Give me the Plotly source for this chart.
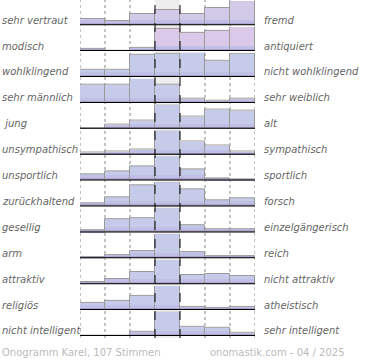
import plotly.graph_objects as go
from plotly.subplots import make_subplots

left_labels = ["sehr vertraut", "modisch", "wohlklingend", "sehr männlich", "\u00a0jung",
               "unsympathisch", "unsportlich", "zurückhaltend", "gesellig", "arm",
               "attraktiv", "religiös", "nicht intelligent"]
right_labels = ["fremd", "antiquiert", "nicht wohlklingend", "sehr weiblich", "alt",
                "sympathisch", "sportlich", "forsch", "einzelgängerisch", "reich",
                "nicht attraktiv", "atheistisch", "sehr intelligent"]
scale_steps = [1, 2, 3, 4, 5, 6, 7]

vertraut_fremd = [25, 19, 45, 63, 45, 70, 100]
modisch_antiquiert = [9, 0, 15, 93, 77, 85, 100]
wohlklingend = [29, 29, 93, 96, 100, 68, 96]
maennlich_weiblich = [75, 75, 100, 75, 18, 10, 18]
jung_alt = [1, 18, 35, 100, 50, 80, 76]
sympathisch = [10, 15, 20, 100, 53, 40, 14]
sportlich = [26, 37, 60, 100, 48, 8, 4]
zurueckhaltend_forsch = [12, 37, 88, 100, 71, 25, 33]
gesellig_einzelg = [8, 54, 58, 100, 29, 14, 14]
arm_reich = [3, 12, 30, 100, 24, 11, 11]
attraktiv = [10, 20, 51, 100, 39, 43, 33]
religioes_atheistisch = [29, 37, 58, 100, 14, 8, 12]
intelligent = [0, 1, 18, 100, 40, 32, 14]

rows = [vertraut_fremd, modisch_antiquiert, wohlklingend, maennlich_weiblich, jung_alt,
        sympathisch, sportlich, zurueckhaltend_forsch, gesellig_einzelg, arm_reich,
        attraktiv, religioes_atheistisch, intelligent]

top_colors = ["#d2c8e8", "#dbc9ea"] + ["#c7cbea"] * 11

n = len(rows)
fig = make_subplots(rows=n, cols=1, shared_xaxes=True, vertical_spacing=1.7 / 335)

xs = [s - 1 for s in scale_steps]
for i, vals in enumerate(rows):
    r = i + 1
    fig.add_trace(go.Bar(x=xs, y=vals, width=1, marker=dict(color=top_colors[i], line=dict(width=0)),
                         hoverinfo="skip", showlegend=False), row=r, col=1)
    fig.add_trace(go.Bar(x=xs, y=[min(v, 22) for v in vals], width=1,
                         marker=dict(color="#c0c0e6", line=dict(width=0)),
                         hoverinfo="skip", showlegend=False), row=r, col=1)
    fig.add_trace(go.Bar(x=xs, y=[min(v, 10) for v in vals], width=1,
                         marker=dict(color="#afa3d6", line=dict(width=0)),
                         hoverinfo="skip", showlegend=False), row=r, col=1)
    fig.add_trace(go.Bar(x=xs, y=vals, width=1,
                         marker=dict(color="rgba(0,0,0,0)", line=dict(color="#9a9a9a", width=1)),
                         hoverinfo="skip", showlegend=False), row=r, col=1)
    yref = "y" if r == 1 else f"y{r}"
    xref = "x" if r == 1 else f"x{r}"
    fig.add_shape(type="line", xref=xref, yref=yref, x0=-0.5, x1=6.5, y0=0, y1=0,
                  line=dict(color="black", width=2), layer="above")
    fig.add_annotation(text=left_labels[i], xref="paper", yref=yref, x=-80 / 175, y=21,
                       xanchor="left", yanchor="middle", showarrow=False,
                       font=dict(family="DejaVu Sans", size=10, color="#666666", style="italic"))
    fig.add_annotation(text=right_labels[i], xref="paper", yref=yref, x=(262 - 80) / 175, y=21,
                       xanchor="left", yanchor="middle", showarrow=False,
                       font=dict(family="DejaVu Sans", size=10, color="#666666", style="italic"))
    fig.update_yaxes(range=[0, 100], visible=False, row=r, col=1)
    fig.update_xaxes(range=[-0.5, 6.5], visible=False, row=r, col=1)

# middle column background
fig.add_shape(type="rect", xref="x", yref="paper", x0=2.5, x1=3.5, y0=-0.006, y1=1.003,
              fillcolor="#eeeeee", line=dict(width=0), layer="below")
for xb in [-0.5, 0.5, 1.5, 4.5, 5.5, 6.5]:
    fig.add_shape(type="line", xref="x", yref="paper", x0=xb, x1=xb, y0=-0.006, y1=1.003,
                  line=dict(color="#888888", width=1, dash="dot"), layer="below")
for xb in [2.5, 3.5]:
    fig.add_shape(type="line", xref="x", yref="paper", x0=xb, x1=xb, y0=-0.006, y1=1.003,
                  line=dict(color="black", width=1, dash="dash"), layer="above")

fig.add_annotation(text="Onogramm Karel, 107 Stimmen", xref="paper", yref="paper",
                   x=-80 / 175, y=(336 - 352.5) / 335, xanchor="left", yanchor="middle",
                   showarrow=False, font=dict(family="DejaVu Sans", size=10, color="#bbbbbb"))
fig.add_annotation(text="onomastik.com - 04 / 2025", xref="paper", yref="paper",
                   x=(347 - 80) / 175, y=(336 - 352.5) / 335, xanchor="right", yanchor="middle",
                   showarrow=False, font=dict(family="DejaVu Sans", size=10, color="#bbbbbb"))

fig.update_layout(width=370, height=360, margin=dict(l=80, r=115, t=1, b=24),
                  barmode="overlay", bargap=0, paper_bgcolor="white",
                  plot_bgcolor="rgba(0,0,0,0)", showlegend=False)

fig.write_html("out.html", config={"displayModeBar": False},
               post_script="document.body.style.margin='0';document.body.style.overflow='hidden';")
